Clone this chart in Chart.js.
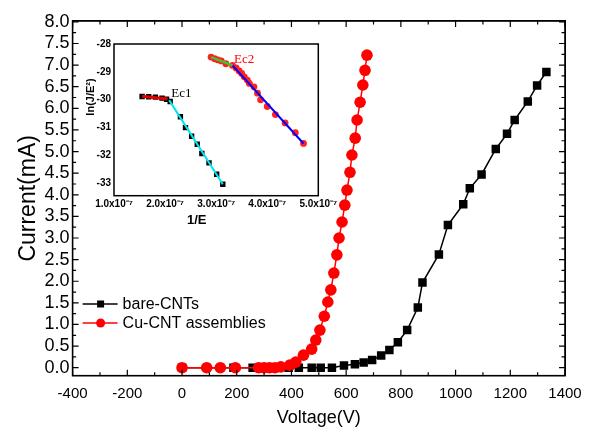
<!DOCTYPE html>
<html>
<head>
<meta charset="utf-8">
<script src="https://cdn.jsdelivr.net/npm/chart.js@4.4.1/dist/chart.umd.min.js"></script>
<style>
  html, body { margin: 0; padding: 0; background: #fff; }
  #wrap { position: relative; width: 600px; height: 440px; }
  #mainChart { position: absolute; left: 0; top: 0; }
  #frameLayer { position: absolute; left: 0; top: 0; pointer-events: none; }
  #frameBox { position: absolute; box-sizing: border-box; border: 1.6px solid #000; pointer-events: none; }
  #insetChart { position: absolute; left: 80px; top: 35px; }
</style>
</head>
<body>
<div id="wrap">
  <canvas id="mainChart" width="600" height="440"></canvas>
  <canvas id="frameLayer" width="600" height="440"></canvas>
  <div id="frameBox"></div>
  <canvas id="insetChart" width="268" height="197"></canvas>
</div>
<script>
// main plot: current vs voltage
const bareVoltage = [0, 188, 258, 324, 390, 427, 474, 507, 548, 592, 632, 664, 695, 728, 758, 789, 823, 862, 879, 939, 972, 1028, 1052, 1095, 1147, 1188, 1216, 1264, 1298, 1332];
const bareCurrent = [0, 0, 0, 0, 0, 0, 0, 0, 0, 0.05, 0.08, 0.12, 0.18, 0.28, 0.41, 0.59, 0.87, 1.39, 1.97, 2.62, 3.30, 3.78, 4.15, 4.47, 5.06, 5.41, 5.73, 6.16, 6.53, 6.84];

const cuVoltage = [0, 90, 140, 195, 280, 300, 320, 340, 361, 394, 416, 444, 474, 489, 504, 520, 533, 544, 555, 566, 574, 585, 595, 603, 614, 621, 633, 640, 651, 661, 669, 676];
const cuCurrent = [0, 0, 0, 0, 0, 0, 0, 0, 0.02, 0.06, 0.13, 0.29, 0.43, 0.64, 0.87, 1.19, 1.52, 1.80, 2.19, 2.61, 3.00, 3.37, 3.76, 4.11, 4.52, 4.92, 5.31, 5.73, 6.14, 6.54, 6.88, 7.23];

// inset: F-N plot, x in units of 1e-7
const fnBareX = [1.55, 1.68, 1.81, 1.94, 2.03, 2.10, 2.30, 2.40, 2.52, 2.63, 2.72, 2.86, 3.01, 3.13];
const fnBareY = [-29.89, -29.90, -29.91, -29.95, -29.99, -30.07, -30.62, -31.01, -31.32, -31.61, -31.94, -32.28, -32.69, -33.05];
const fnCuX = [2.90, 2.97, 3.03, 3.10, 3.19, 3.32, 3.39, 3.45, 3.50, 3.55, 3.61, 3.65, 3.74, 3.81, 3.87, 4.00, 4.16, 4.35, 4.55, 4.71];
const fnCuY = [-28.47, -28.53, -28.57, -28.61, -28.71, -28.77, -28.86, -28.97, -29.06, -29.18, -29.30, -29.42, -29.54, -29.77, -30.01, -30.25, -30.54, -30.84, -31.19, -31.58];

// fitted segments (end points)
const fitBareLowX = [1.55, 2.05];
const fitBareLowY = [-29.88, -29.98];
const fitBareHighX = [2.08, 3.13];
const fitBareHighY = [-30.02, -33.05];
const fitCuLowX = [2.90, 3.32];
const fitCuLowY = [-28.47, -28.77];
const fitCuHighX = [3.32, 4.71];
const fitCuHighY = [-28.77, -31.58];

const xTicksInset = [1, 2, 3, 4, 5];

function pts(xs, ys) {
  return xs.map((x, i) => ({ x: x, y: ys[i] }));
}

const FONT = "'Liberation Sans', Arial, sans-serif";
const X_MIN = -400, X_MAX = 1400, Y_MIN = -0.185, Y_MAX = 8.02;
const X_MINOR = 100, Y_MINOR = 0.25;

// ---------- inset chart (created first) ----------
const insetText = {
  id: "insetText",
  afterDraw(chart) {
    const ctx = chart.ctx;
    const a = chart.chartArea;
    const x = chart.scales.x, y = chart.scales.y;
    ctx.save();
    ctx.strokeStyle = "#000";
    ctx.lineWidth = 1.5;
    ctx.strokeRect(a.left, a.top, a.right - a.left, a.bottom - a.top);

    ctx.fillStyle = "#000";
    ctx.font = "bold 13px " + FONT;
    ctx.textAlign = "center";
    ctx.textBaseline = "middle";
    ctx.fillText("1/E", 116.7, 185);

    ctx.translate(10.5, 62);
    ctx.rotate(-Math.PI / 2);
    ctx.font = "bold 11px " + FONT;
    ctx.fillText("ln(J/E\u00b2)", 0, 0);
    ctx.restore();

    ctx.save();
    ctx.font = "13px 'Liberation Serif', 'DejaVu Serif', serif";
    ctx.textBaseline = "middle";
    ctx.fillStyle = "#000";
    ctx.fillText("Ec1", x.getPixelForValue(2.12), y.getPixelForValue(-29.77));
    ctx.fillStyle = "#ff0000";
    ctx.fillText("Ec2", x.getPixelForValue(3.35), y.getPixelForValue(-28.56));
    ctx.restore();
  }
};

function fitLine(xs, ys, color, width) {
  return {
    data: pts(xs, ys),
    showLine: true,
    borderColor: color,
    borderWidth: width,
    pointRadius: 0,
    order: 0
  };
}

new Chart(document.getElementById("insetChart"), {
  type: "scatter",
  data: {
    datasets: [
      {
        data: pts(fnBareX, fnBareY),
        backgroundColor: "#000",
        pointStyle: "rect",
        pointRadius: 3.8,
        pointBorderWidth: 0,
        order: 2
      },
      {
        data: pts(fnCuX, fnCuY),
        backgroundColor: "#ff2020",
        pointStyle: "circle",
        pointRadius: 3.4,
        pointBorderWidth: 0,
        order: 2
      },
      fitLine(fitBareLowX, fitBareLowY, "#e00000", 3),
      fitLine(fitBareHighX, fitBareHighY, "#00e5ee", 2),
      fitLine(fitCuLowX, fitCuLowY, "#33cc33", 2.5),
      fitLine(fitCuHighX, fitCuHighY, "#0000ff", 2)
    ]
  },
  options: {
    responsive: false,
    animation: false,
    events: [],
    layout: { padding: { left: 0, top: 6.7, right: 29.7, bottom: 0 } },
    plugins: { legend: { display: false }, tooltip: { enabled: false } },
    scales: {
      x: {
        type: "linear",
        min: 1,
        max: 5,
        afterFit(s) { s.height = 36.3; },
        afterBuildTicks(s) { s.ticks = xTicksInset.map(v => ({ value: v })); },
        grid: { display: false, drawTicks: false },
        border: { display: false },
        ticks: {
          color: "#000",
          padding: 3,
          maxRotation: 0,
          autoSkip: false,
          callback: v => v.toFixed(1) + "x10\u207b\u2077",
          font: { family: FONT, size: 10, weight: "bold" }
        }
      },
      y: {
        type: "linear",
        min: -33.46,
        max: -28,
        afterFit(s) { s.width = 34; },
        grid: { display: false, drawTicks: false },
        border: { display: false },
        ticks: {
          stepSize: 1,
          includeBounds: false,
          color: "#000",
          padding: 3,
          autoSkip: false,
          font: { family: FONT, size: 10, weight: "bold" }
        }
      }
    }
  },
  plugins: [insetText]
});

// ---------- main chart ----------
// frame + inward ticks, drawn from the main chart's scales
const frameOverlay = {
  id: "frameOverlay",
  afterDraw(chart) {
    const xs = chart.scales.x, ys = chart.scales.y;
    const L = xs.getPixelForValue(X_MIN), R = xs.getPixelForValue(X_MAX);
    const T = ys.getPixelForValue(Y_MAX), B = ys.getPixelForValue(Y_MIN);

    const box = document.getElementById("frameBox").style;
    box.left = (L - 0.8) + "px";
    box.top = (T - 0.8) + "px";
    box.width = (R - L + 1.6) + "px";
    box.height = (B - T + 1.6) + "px";

    const layer = document.getElementById("frameLayer");
    const ctx = layer.getContext("2d");
    ctx.clearRect(0, 0, layer.width, layer.height);
    ctx.save();
    ctx.strokeStyle = "#000";
    ctx.lineWidth = 1.6;
    ctx.strokeRect(L, T, R - L, B - T);
    ctx.lineWidth = 1.2;
    const ix0 = Math.ceil(X_MIN / X_MINOR - 1e-6), ix1 = Math.floor(X_MAX / X_MINOR + 1e-6);
    for (let i = ix0; i <= ix1; i++) {
      const px = xs.getPixelForValue(i * X_MINOR);
      const len = i % 2 === 0 ? 6 : 3.5;
      ctx.beginPath();
      ctx.moveTo(px, B); ctx.lineTo(px, B - len);
      ctx.moveTo(px, T); ctx.lineTo(px, T + len);
      ctx.stroke();
    }
    const iy0 = Math.ceil(Y_MIN / Y_MINOR - 1e-6), iy1 = Math.floor(Y_MAX / Y_MINOR + 1e-6);
    for (let i = iy0; i <= iy1; i++) {
      const py = ys.getPixelForValue(i * Y_MINOR);
      const len = i % 2 === 0 ? 6 : 3.5;
      ctx.beginPath();
      ctx.moveTo(L, py); ctx.lineTo(L + len, py);
      ctx.moveTo(R, py); ctx.lineTo(R - len, py);
      ctx.stroke();
    }
    ctx.restore();
  }
};

// legend placed inside the plot, lower left
const cornerLegend = {
  id: "cornerLegend",
  afterDraw(chart) {
    const ctx = chart.ctx;
    const a = chart.chartArea;
    const rows = [
      { text: "bare-CNTs", color: "#000", shape: "rect", dy: 304 },
      { text: "Cu-CNT assemblies", color: "#ff0000", shape: "circle", dy: 323 }
    ];
    ctx.save();
    rows.forEach(r => {
      const x0 = a.left + 10, x1 = a.left + 45, mx = a.left + 28;
      ctx.strokeStyle = r.color;
      ctx.fillStyle = r.color;
      ctx.lineWidth = 1.5;
      ctx.beginPath();
      ctx.moveTo(x0, r.dy); ctx.lineTo(x1, r.dy);
      ctx.stroke();
      if (r.shape === "rect") {
        ctx.fillRect(mx - 3.5, r.dy - 3.5, 7, 7);
      } else {
        ctx.beginPath();
        ctx.arc(mx, r.dy, 4.5, 0, Math.PI * 2);
        ctx.fill();
      }
      ctx.fillStyle = "#000";
      ctx.font = "16px " + FONT;
      ctx.textBaseline = "middle";
      ctx.fillText(r.text, a.left + 50, r.dy + 1);
    });
    ctx.restore();
  }
};

new Chart(document.getElementById("mainChart"), {
  type: "scatter",
  data: {
    datasets: [
      {
        label: "bare-CNTs",
        data: pts(bareVoltage, bareCurrent),
        showLine: true,
        borderColor: "#000",
        backgroundColor: "#000",
        borderWidth: 1.5,
        pointStyle: "rect",
        pointRadius: 6,
        pointBorderWidth: 0,
        order: 1
      },
      {
        label: "Cu-CNT assemblies",
        data: pts(cuVoltage, cuCurrent),
        showLine: true,
        borderColor: "#ff0000",
        backgroundColor: "#ff0000",
        borderWidth: 1.5,
        pointStyle: "circle",
        pointRadius: 5.8,
        pointBorderWidth: 0,
        order: 0
      }
    ]
  },
  options: {
    responsive: false,
    animation: false,
    events: [],
    layout: { padding: { left: 0, top: 21, right: 35, bottom: 0 } },
    plugins: {
      legend: { display: false },
      tooltip: { enabled: false }
    },
    scales: {
      x: {
        type: "linear",
        min: X_MIN,
        max: X_MAX,
        afterFit(s) { s.height = 64.3; },
        grid: { display: false, drawTicks: false },
        border: { display: false },
        ticks: {
          stepSize: 200,
          color: "#000",
          padding: 9,
          maxRotation: 0,
          autoSkip: false,
          callback: v => String(v),
          font: { family: FONT, size: 15 }
        },
        title: {
          display: true,
          text: "Voltage(V)",
          color: "#000",
          padding: { top: 0, bottom: 11 },
          font: { family: FONT, size: 18 }
        }
      },
      y: {
        type: "linear",
        min: Y_MIN,
        max: Y_MAX,
        afterFit(s) { s.width = 72.6; },
        grid: { display: false, drawTicks: false },
        border: { display: false },
        ticks: {
          stepSize: 0.5,
          includeBounds: false,
          color: "#000",
          padding: 3,
          autoSkip: false,
          callback: v => v.toFixed(1),
          font: { family: FONT, size: 18 }
        },
        title: {
          display: true,
          text: "Current(mA)",
          color: "#000",
          padding: { top: 15, bottom: 0 },
          font: { family: FONT, size: 23 }
        }
      }
    }
  },
  plugins: [frameOverlay, cornerLegend]
});
</script>
</body>
</html>
